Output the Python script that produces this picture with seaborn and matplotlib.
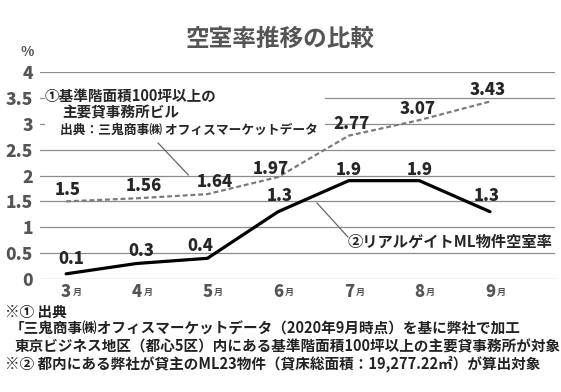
import numpy as np
import matplotlib
matplotlib.use("Agg")
import matplotlib.pyplot as plt
import seaborn as sns
from matplotlib.patches import Rectangle

# data
months = ["3", "4", "5", "6", "7", "8", "9"]
office_rate = [1.5, 1.56, 1.64, 1.97, 2.77, 3.07, 3.43]
realgate_rate = [0.1, 0.3, 0.4, 1.3, 1.9, 1.9, 1.3]
y_ticks = [0, 0.5, 1, 1.5, 2, 2.5, 3, 3.5, 4]
y_labels = ["0", "0.5", "1", "1.5", "2", "2.5", "3", "3.5", "4"]

title = "空室率推移の比較"
note_office = ["①基準階面積100坪以上の", "主要貸事務所ビル", "出典：三鬼商事㈱ オフィスマーケットデータ"]
note_realgate = "②リアルゲイトML物件空室率"
footnotes = [
    "※① 出典",
    "「三鬼商事㈱オフィスマーケットデータ（2020年9月時点）を基に弊社で加工",
    "東京ビジネス地区（都心5区）内にある基準階面積100坪以上の主要貸事務所が対象",
    "※② 都内にある弊社が貸主のML23物件（貸床総面積：19,277.22㎡）が算出対象",
]

sns.set_style("white")
plt.rcParams["font.family"] = ["Noto Sans CJK JP", "DejaVu Sans"]

GRAY = "#555555"
W, H = 561, 392
fig = plt.figure(figsize=(W / 100, H / 100), dpi=100)
ax = fig.add_axes([40 / W, 1 - 279 / H, 515 / W, 207 / H])

xs = np.arange(len(months))
sns.lineplot(x=xs, y=office_rate, ax=ax, color="#7a7a7a", lw=1.6,
             linestyle=(0, (2.2, 1.3)), zorder=3)
sns.lineplot(x=xs, y=realgate_rate, ax=ax, color="black", lw=2.3, zorder=3)

# value labels (offsets in points, just placement)
off_office = [(1.5, 8.5), (5, 8.5), (5, 8.5), (-5, 6), (2, 8.5), (-1.5, 8), (-2, 8)]
off_real = [(3.5, 11), (3, 9), (-5, 8.5), (1, 11), (0, 8), (0, 8), (-2, 11)]
for i, v in enumerate(office_rate):
    ax.annotate(f"{v:g}", (i, v), xytext=off_office[i], textcoords="offset points",
                ha="center", va="center", fontsize=12, fontweight="black", zorder=5)
for i, v in enumerate(realgate_rate):
    ax.annotate(f"{v:g}", (i, v), xytext=off_real[i], textcoords="offset points",
                ha="center", va="center", fontsize=12, fontweight="black", zorder=5)

ax.set_xlim(-0.37, 6.92)
ax.set_ylim(0, 4)
ax.set_yticks(y_ticks)
ax.set_yticklabels(y_labels)
ax.set_xticks(xs)
ax.set_xticklabels(months)
ax.tick_params(axis="y", length=0, pad=5, labelsize=12.5, labelcolor=GRAY)
ax.tick_params(axis="x", length=0, pad=3, labelsize=12, labelcolor=GRAY)
for lab in ax.get_xticklabels() + ax.get_yticklabels():
    lab.set_fontweight("black")
for i in xs:
    ax.annotate("月", (i, 0), xycoords=("data", "axes fraction"), xytext=(4.8, -11.5),
                textcoords="offset points", ha="left", va="baseline",
                fontsize=6.5, fontweight="bold", color=GRAY)

ax.grid(axis="y", color="#8c8c8c", lw=0.9)
ax.grid(axis="x", visible=False)
ax.set_axisbelow(True)
sns.despine(ax=ax, left=True, bottom=True)

# white patch behind note ①
ax.add_patch(Rectangle((-0.3, 2.76), 3.96, 0.95, facecolor="white", edgecolor="none", zorder=1.5))
ax.text(-0.3, 3.53, note_office[0], fontsize=10.5, fontweight="bold", va="center", zorder=4)
ax.text(-0.06, 3.21, note_office[1], fontsize=10.5, fontweight="bold", va="center", zorder=4)
ax.text(-0.08, 2.87, note_office[2], fontsize=9.2, fontweight="bold", va="center", zorder=4)
ax.plot([1.30, 1.73], [2.63, 2.01], color="#666666", lw=0.9, zorder=4)

ax.text(3.99, 0.73, note_realgate, fontsize=11, fontweight="bold", va="center", zorder=4)
ax.plot([3.55, 3.99], [1.47, 0.81], color="#666666", lw=0.9, zorder=4)

fig.text(0.5, 1 - 39 / H, title, ha="center", va="center", fontsize=17,
         fontweight="bold", color=GRAY)
fig.text(27 / W, 1 - 52 / H, "%", ha="center", va="center", fontsize=10,
         fontweight="bold", color=GRAY)

foot_pos = [(5, 312), (10, 329), (15, 346), (5, 364)]
for (px, py), s in zip(foot_pos, footnotes):
    fig.text(px / W, 1 - py / H, s, ha="left", va="center", fontsize=10.5,
             fontweight="bold", color="#222222")

fig.savefig("out.png", dpi=100)
